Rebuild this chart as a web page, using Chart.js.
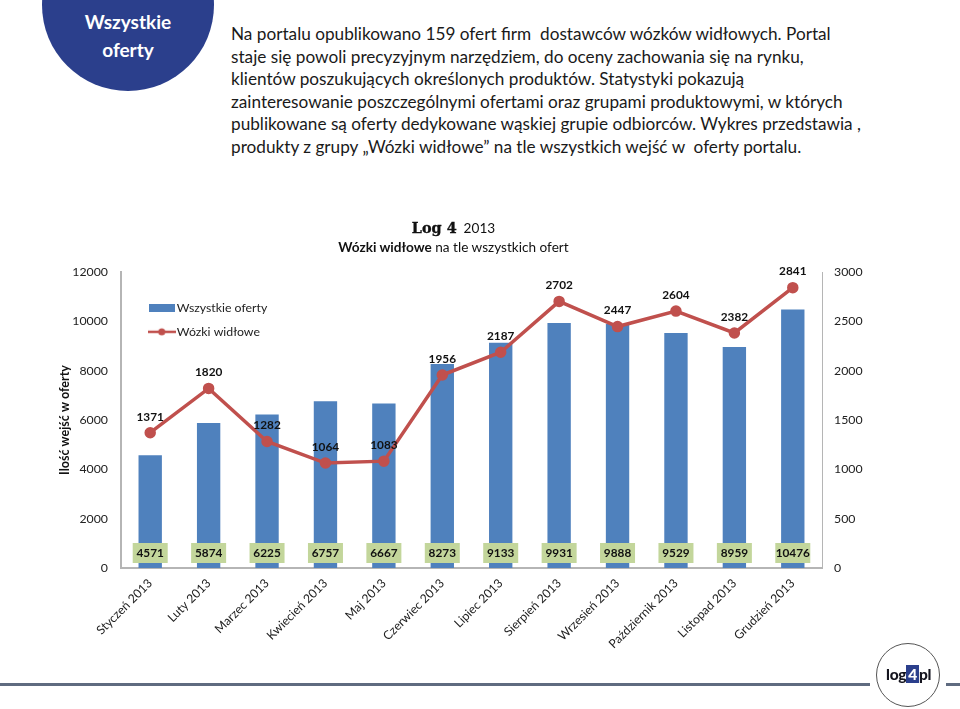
<!DOCTYPE html>
<html lang="pl"><head><meta charset="utf-8">
<style>
html,body{margin:0;padding:0;background:#fff;width:960px;height:709px;overflow:hidden;font-family:Lato,sans-serif;color:#111}
#wrap{position:relative;width:960px;height:709px;overflow:hidden}
#c{position:absolute;left:0;top:0}
.abs{position:absolute;white-space:pre}
#badge{position:absolute;left:42px;top:-81px;width:172px;height:172px;border-radius:50%;background:#2B3F8C}
#badgeT{left:42px;width:172px;top:8px;text-align:center;color:#fff;font-weight:700;font-size:19px;line-height:28px}
#para{left:231px;top:23px;font-size:17.2px;line-height:22.6px;color:#1a1a1a}
#title{left:0;width:907px;top:219px;text-align:center;font-size:13.6px;line-height:18.5px;color:#111}
#title .log{font-family:"DejaVu Serif",serif;font-weight:900;font-size:14.4px;-webkit-text-stroke:.35px #111}
#rule1{position:absolute;left:0;top:683px;width:870px;height:3px;background:#5F6B80}
#rule2{position:absolute;left:946px;top:683px;width:14px;height:3px;background:#5F6B80}
#circle{position:absolute;left:876px;top:643px;width:62px;height:62px;border:1.5px solid #555;border-radius:50%;background:#fff}
#logo{left:886px;top:664px;font-weight:900;font-size:15.5px;color:#15151f;line-height:20px;letter-spacing:-.3px}
#logo b{background:#2B3F8C;color:#fff;padding:0 2px;font-weight:900}
</style></head><body><div id="wrap">
<div id="badge"></div>
<div id="badgeT" class="abs">Wszystkie
oferty</div>
<div id="para" class="abs">Na portalu opublikowano 159 ofert firm  dostawców wózków widłowych. Portal
staje się powoli precyzyjnym narzędziem, do oceny zachowania się na rynku,
klientów poszukujących określonych produktów. Statystyki pokazują
zainteresowanie poszczególnymi ofertami oraz grupami produktowymi, w których
publikowane są oferty dedykowane wąskiej grupie odbiorców. Wykres przedstawia ,
produkty z grupy „Wózki widłowe” na tle wszystkich wejść w  oferty portalu.</div>
<canvas id="c" width="960" height="709"></canvas>
<div id="title" class="abs"><span class="log">Log 4</span>  2013
<b>Wózki widłowe</b> na tle wszystkich ofert</div>
<div id="rule1"></div><div id="rule2"></div><div id="circle"></div>
<div id="logo" class="abs">log<b>4</b>pl</div>
</div>
<script src="https://cdn.jsdelivr.net/npm/chart.js@4/dist/chart.umd.js"></script>
<script>
const categories=["Styczeń 2013","Luty 2013","Marzec 2013","Kwiecień 2013","Maj 2013","Czerwiec 2013","Lipiec 2013","Sierpień 2013","Wrzesień 2013","Październik 2013","Listopad 2013","Grudzień 2013"];
const allOffers=[4571,5874,6225,6757,6667,8273,9133,9931,9888,9529,8959,10476];
const forklifts=[1371,1820,1282,1064,1083,1956,2187,2702,2447,2604,2382,2841];
const seriesNames=["Wszystkie oferty","Wózki widłowe"];
const axisTitle="Ilość wejść w oferty";
const BLUE="#4F81BD",RED="#C0504D",GREEN="#C3D69B",AXIS="#B5B5B5",FONT="Lato";

function mk(w,h,fn){const c=document.createElement('canvas');c.width=w;c.height=h;fn(c.getContext('2d'));return c;}
const barMark=mk(26,8,g=>{g.fillStyle=BLUE;g.fillRect(0,0,26,8);});
const lineMark=mk(28,10,g=>{g.strokeStyle=RED;g.lineWidth=2.5;g.beginPath();g.moveTo(0,5);g.lineTo(28,5);g.stroke();g.fillStyle=RED;g.beginPath();g.arc(14,5,3.5,0,7);g.fill();});

const valueLabels={id:'valueLabels',afterDatasetsDraw(chart){
  const g=chart.ctx;g.save();g.textAlign='center';g.textBaseline='middle';g.font='700 11.8px '+FONT;
  const y0=chart.scales.y.bottom;
  chart.getDatasetMeta(0).data.forEach((el,i)=>{
    const x=el.x,y=y0-15;
    g.fillStyle=GREEN;g.fillRect(x-17.5,y-10,35,20);
    g.fillStyle='#111';g.fillText(allOffers[i],x,y);
  });
  chart.getDatasetMeta(1).data.forEach((el,i)=>{g.fillStyle='#111';g.fillText(forklifts[i],el.x,el.y-16);});
  g.restore();
}};
const placeLegend={id:'placeLegend',afterLayout(chart){
  const l=chart.legend;const dx=141-l.left,dy=290-l.top;
  l.left+=dx;l.right+=dx;l.top+=dy;l.bottom+=dy;
}};

new Chart(document.getElementById('c'),{
 data:{labels:categories,datasets:[
  {type:'bar',label:seriesNames[0],data:allOffers,backgroundColor:BLUE,yAxisID:'y',order:2,barPercentage:.8,categoryPercentage:.5},
  {type:'line',label:seriesNames[1],data:forklifts,borderColor:RED,backgroundColor:RED,borderWidth:3.5,pointRadius:4,pointBackgroundColor:RED,pointBorderColor:RED,tension:0,yAxisID:'y1',order:1}
 ]},
 plugins:[valueLabels,placeLegend],
 options:{responsive:false,animation:false,devicePixelRatio:1,
  layout:{padding:{left:0,right:0,top:272,bottom:0}},
  plugins:{title:{display:false},tooltip:{enabled:false},
   legend:{position:'chartArea',align:'start',fullSize:false,
    labels:{usePointStyle:true,pointStyleWidth:18,boxWidth:18,boxHeight:12,padding:11.7,color:'#222',font:{family:FONT,size:12.3},
     generateLabels(){return seriesNames.map((n,i)=>({text:n,pointStyle:i?lineMark:barMark,fontColor:'#222',lineWidth:0,hidden:false,datasetIndex:i}));}}}},
  scales:{
   x:{grid:{display:false,tickLength:0},border:{color:AXIS,width:2},
      ticks:{minRotation:45,maxRotation:45,color:'#222',font:{family:FONT,size:12.2},padding:8,autoSkip:false},
      afterFit(s){s.height=141;s.paddingLeft=0;s.paddingRight=0;}},
   y:{position:'left',min:0,max:12000,grid:{display:false,tickLength:0},border:{color:AXIS,width:2},
      ticks:{stepSize:2000,format:{useGrouping:false},color:'#222',font:{family:FONT,size:12.3},padding:13},
      title:{display:true,text:axisTitle,color:'#111',font:{family:FONT,size:12.5,weight:'700'},padding:{top:57,bottom:0}},
      afterFit(s){s.width=121;s.paddingTop=0;s.paddingBottom=0;}},
   y1:{position:'right',min:0,max:3000,grid:{display:false,drawOnChartArea:false,tickLength:5,color:AXIS},border:{color:AXIS,width:1},
      ticks:{stepSize:500,format:{useGrouping:false},color:'#222',font:{family:FONT,size:12.3},padding:7},
      afterFit(s){s.width=138;s.paddingTop=0;s.paddingBottom=0;}}
  }}
});
</script></body></html>
